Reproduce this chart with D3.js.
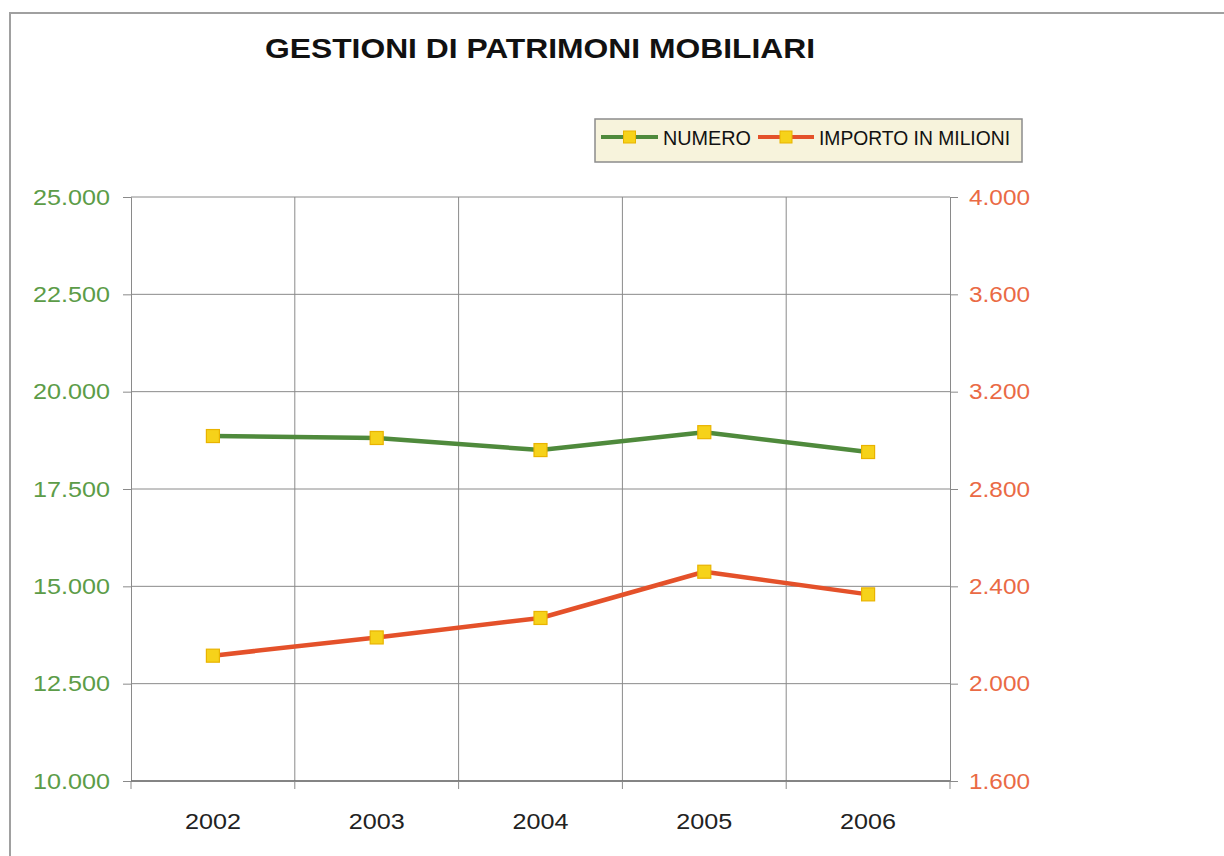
<!DOCTYPE html>
<html>
<head>
<meta charset="utf-8">
<script src="https://cdn.jsdelivr.net/npm/d3@7"></script>
<style>
  html, body { margin: 0; padding: 0; background: #ffffff; }
  svg { display: block; font-family: "Liberation Sans", Arial, sans-serif; }
</style>
</head>
<body>
<svg id="chart" width="1224" height="856"></svg>
<script>
// Gestioni di patrimoni mobiliari, 2002-2006
const years = ["2002", "2003", "2004", "2005", "2006"];
const numero = [18860, 18810, 18500, 18960, 18450];        // left axis
const importo = [2115, 2190, 2270, 2460, 2367];            // right axis, milioni
const leftTicks = [10000, 12500, 15000, 17500, 20000, 22500, 25000];
const rightTicks = [1600, 2000, 2400, 2800, 3200, 3600, 4000];
const seriesNames = ["NUMERO", "IMPORTO IN MILIONI"];

const colors = {
  green: "#4f8a3c",
  greenText: "#5c9c48",
  orange: "#e4512a",
  orangeText: "#ea6a45",
  marker: "#f6d21a",
  markerStroke: "#e9b300",
  grid: "#8a8a8a"
};

const fmt = v => d3.format(",.0f")(v).replace(/,/g, ".");

const svg = d3.select("#chart");

// outer frame
svg.append("rect")
  .attr("x", 10).attr("y", 13)
  .attr("width", 1240).attr("height", 860)
  .attr("fill", "none").attr("stroke", "#a0a0a0").attr("stroke-width", 2);

const plot = { left: 131, right: 950, top: 197, bottom: 781 };

const x = d3.scaleBand().domain(years).range([plot.left, plot.right]).padding(0);
const yL = d3.scaleLinear().domain([10000, 25000]).range([plot.bottom, plot.top]);
const yR = d3.scaleLinear().domain([1600, 4000]).range([plot.bottom, plot.top]);

// horizontal gridlines
svg.append("g")
  .selectAll("line")
  .data(leftTicks)
  .join("line")
  .attr("x1", plot.left).attr("x2", plot.right)
  .attr("y1", d => yL(d)).attr("y2", d => yL(d))
  .attr("stroke", colors.grid).attr("stroke-width", 1);

// vertical gridlines at category boundaries
const bounds = years.slice(1).map(y => x(y));
svg.append("g")
  .selectAll("line")
  .data(bounds)
  .join("line")
  .attr("x1", d => d).attr("x2", d => d)
  .attr("y1", plot.top).attr("y2", plot.bottom)
  .attr("stroke", colors.grid).attr("stroke-width", 1);

// left axis
const gL = svg.append("g")
  .attr("transform", `translate(${plot.left},0)`)
  .call(d3.axisLeft(yL).tickValues(leftTicks).tickFormat(fmt).tickSize(8).tickPadding(13));
gL.select(".domain").attr("stroke", colors.grid);
gL.selectAll(".tick line").attr("stroke", colors.grid);
gL.selectAll(".tick text")
  .attr("fill", colors.greenText)
  .attr("textLength", 77).attr("lengthAdjust", "spacingAndGlyphs")
  .style("font-size", "22px");

// right axis
const gR = svg.append("g")
  .attr("transform", `translate(${plot.right},0)`)
  .call(d3.axisRight(yR).tickValues(rightTicks).tickFormat(fmt).tickSize(8).tickPadding(11));
gR.select(".domain").attr("stroke", colors.grid);
gR.selectAll(".tick line").attr("stroke", colors.grid);
gR.selectAll(".tick text")
  .attr("fill", colors.orangeText)
  .attr("textLength", 61).attr("lengthAdjust", "spacingAndGlyphs")
  .style("font-size", "22px");

// bottom axis: ticks at category boundaries, labels at centres
svg.append("line")
  .attr("x1", plot.left).attr("x2", plot.right)
  .attr("y1", plot.bottom).attr("y2", plot.bottom)
  .attr("stroke", "#6f6f6f").attr("stroke-width", 1.5);
svg.append("g")
  .selectAll("line")
  .data([plot.left, ...bounds, plot.right])
  .join("line")
  .attr("x1", d => d).attr("x2", d => d)
  .attr("y1", plot.bottom).attr("y2", plot.bottom + 8)
  .attr("stroke", colors.grid);
svg.append("g")
  .selectAll("text")
  .data(years)
  .join("text")
  .attr("x", d => x(d) + x.bandwidth() / 2 - 28)
  .attr("y", 829)
  .attr("textLength", 56).attr("lengthAdjust", "spacingAndGlyphs")
  .attr("fill", "#222")
  .style("font-size", "22px")
  .text(d => d);

const cx = d => x(d) + x.bandwidth() / 2;

// series lines
const lineL = d3.line().x((d, i) => cx(years[i])).y(d => yL(d));
const lineR = d3.line().x((d, i) => cx(years[i])).y(d => yR(d));

svg.append("path").datum(numero)
  .attr("d", lineL).attr("fill", "none")
  .attr("stroke", colors.green).attr("stroke-width", 4.5).attr("stroke-linejoin", "round");
svg.append("path").datum(importo)
  .attr("d", lineR).attr("fill", "none")
  .attr("stroke", colors.orange).attr("stroke-width", 4.5).attr("stroke-linejoin", "round");

// square markers
const ms = 13;
function markers(data, yScale) {
  svg.append("g")
    .selectAll("rect")
    .data(data)
    .join("rect")
    .attr("x", (d, i) => cx(years[i]) - ms / 2)
    .attr("y", d => yScale(d) - ms / 2)
    .attr("width", ms).attr("height", ms)
    .attr("fill", colors.marker)
    .attr("stroke", colors.markerStroke).attr("stroke-width", 1.2);
}
markers(numero, yL);
markers(importo, yR);

// title
svg.append("text")
  .attr("x", 265).attr("y", 58)
  .attr("textLength", 550).attr("lengthAdjust", "spacingAndGlyphs")
  .attr("fill", "#111")
  .style("font-size", "28px").style("font-weight", "bold")
  .text("GESTIONI DI PATRIMONI MOBILIARI");

// legend
const lg = svg.append("g");
lg.append("rect")
  .attr("x", 595).attr("y", 119).attr("width", 427).attr("height", 43)
  .attr("fill", "#f7f3dc").attr("stroke", "#8c8c8c").attr("stroke-width", 1.5);

const legendItems = [
  { name: seriesNames[0], color: colors.green, x0: 601, x1: 658, tx: 663, tw: 88 },
  { name: seriesNames[1], color: colors.orange, x0: 758, x1: 814, tx: 819, tw: 191 }
];
legendItems.forEach(it => {
  lg.append("line")
    .attr("x1", it.x0).attr("x2", it.x1).attr("y1", 137).attr("y2", 137)
    .attr("stroke", it.color).attr("stroke-width", 4);
  lg.append("rect")
    .attr("x", (it.x0 + it.x1) / 2 - 6).attr("y", 131)
    .attr("width", 12).attr("height", 12)
    .attr("fill", colors.marker).attr("stroke", colors.markerStroke);
  lg.append("text")
    .attr("x", it.tx).attr("y", 145)
    .attr("textLength", it.tw).attr("lengthAdjust", "spacingAndGlyphs")
    .attr("fill", "#111")
    .style("font-size", "20px")
    .text(it.name);
});
</script>
</body>
</html>
